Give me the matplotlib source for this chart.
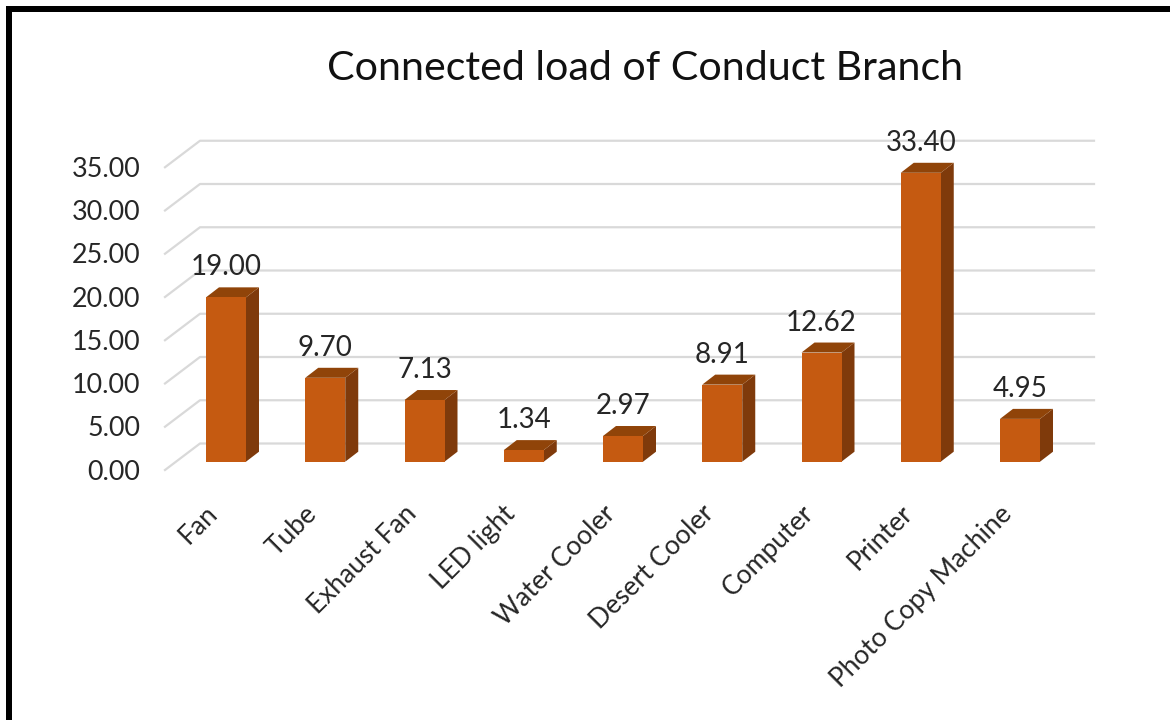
import matplotlib
matplotlib.use('Agg')
import matplotlib.pyplot as plt
from matplotlib.patches import Polygon, Rectangle

plt.rcParams['font.family'] = ['Lato', 'DejaVu Sans']

categories = ['Fan', 'Tube', 'Exhaust Fan', 'LED light', 'Water Cooler',
              'Desert Cooler', 'Computer', 'Printer', 'Photo Copy Machine']
values = [19.00, 9.70, 7.13, 1.34, 2.97, 8.91, 12.62, 33.40, 4.95]
ticks = [0, 5, 10, 15, 20, 25, 30, 35]

W, H = 1170, 720
X0, PX_CAT = 226, 99.25   # pixel of first category, pixels per category
Y0, PX_UNIT = 461.7, 8.65  # pixel of value 0, pixels per unit


# Helpers to express pixel distances in data units
def dx(px):
    return px / PX_CAT


def dy(px):
    return px / PX_UNIT


fig = plt.figure(figsize=(W / 100, H / 100), dpi=100)
ax = fig.add_axes([0, 0, 1, 1])
ax.set_xlim(-dx(X0), dx(W - X0))
ax.set_ylim(-dy(H - Y0), dy(Y0))
ax.axis('off')

# Black frame on the left and top only
fig.add_artist(Rectangle((6 / W, 0), 6 / W, 1 - 6 / H, transform=fig.transFigure, color='black', lw=0))
fig.add_artist(Rectangle((6 / W, 1 - 12 / H), 1 - 6 / W, 6 / H, transform=fig.transFigure, color='black', lw=0))

fig.text(645 / W, 1 - 68 / H, 'Connected load of Conduct Branch', fontsize=29.6,
         color='#111111', ha='center', va='center')

# Gridlines on the back wall and the floor
for t in ticks:
    ax.plot([dx(165 - X0), dx(200 - X0), dx(1094 - X0)],
            [t - dy(8.3), t + dy(18.2), t + dy(18.2)],
            color='#D9D9D9', lw=1.6, zorder=1)
    ax.text(dx(140.5 - X0), t - dy(10.5), '%.2f' % t, fontsize=19.4, color='#262626',
            ha='right', va='center', zorder=3)

# Bars with a top and side face
bar_w = dx(40)
ddx, ddy = dx(13), dy(10)
for i, v in enumerate(values):
    l, r = i - bar_w / 2, i + bar_w / 2
    ax.add_patch(Polygon([(r, 0), (r + ddx, ddy), (r + ddx, v + ddy), (r, v)],
                         facecolor='#7F3A0B', edgecolor='none', zorder=2))
    ax.add_patch(Polygon([(l, v), (l + ddx, v + ddy), (r + ddx, v + ddy), (r, v)],
                         facecolor='#904409', edgecolor='none', zorder=2))
    ax.text(i, v + dy(30), '%.2f' % v, fontsize=20, color='#262626',
            ha='center', va='center', zorder=4)
ax.bar(range(len(values)), values, width=bar_w, color='#C55A11', zorder=3)

# Slanted category labels
for i, c in enumerate(categories):
    ax.text(i - dx(12), -dy(48), c, fontsize=19, color='#262626', rotation=45,
            rotation_mode='anchor', ha='right', va='center')

fig.savefig('out.png', dpi=100)
